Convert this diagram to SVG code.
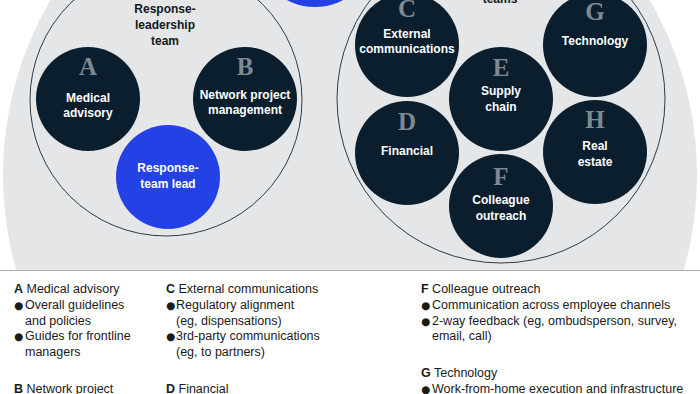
<svg xmlns="http://www.w3.org/2000/svg" width="700" height="394" viewBox="0 0 700 394">
<defs>
<style>
.bg{fill:#e5e6e8}
.ring{fill:none;stroke:#2b3b49;stroke-width:1}
.dark{fill:#0a1e2d}
.blue{fill:#2341e5}
.let{font-family:"Liberation Serif",serif;font-weight:bold;font-size:25px;fill:#7d8995;text-anchor:middle}
.lab{font-family:"Liberation Sans",Arial,sans-serif;font-weight:bold;font-size:12px;fill:#ffffff;text-anchor:middle}
.grp{font-family:"Liberation Sans",Arial,sans-serif;font-weight:bold;font-size:12px;fill:#111820;text-anchor:middle}
.leg{font-family:"Liberation Sans",Arial,sans-serif;font-size:12.5px;fill:#1a1a1a}
.b{font-weight:bold}
.bul{font-family:"DejaVu Sans",sans-serif;font-size:10.5px}
</style>
<clipPath id="top"><rect x="0" y="0" width="700" height="270"/></clipPath>
</defs>
<circle class="bg" cx="350" cy="175" r="347" clip-path="url(#top)"/>
<line x1="0" y1="270.5" x2="700" y2="270.5" stroke="#a7aeb5" stroke-width="1.2"/>

<g id="node-top-blue"><circle class="blue" cx="315" cy="-53" r="60"/></g>

<g id="node-response-leadership-team">
<circle class="ring" cx="166" cy="100" r="136"/>
<text class="grp" x="165" y="13">Response-</text>
<text class="grp" x="165" y="29">leadership</text>
<text class="grp" x="165" y="45">team</text>
</g>
<g id="node-A">
<circle class="dark" cx="88" cy="99" r="52"/>
<text class="let" x="88" y="75">A</text>
<text class="lab" x="88" y="102">Medical</text>
<text class="lab" x="88" y="117">advisory</text>
</g>
<g id="node-B">
<circle class="dark" cx="245" cy="99" r="52"/>
<text class="let" x="245" y="75">B</text>
<text class="lab" x="245" y="99">Network project</text>
<text class="lab" x="245" y="114">management</text>
</g>
<g id="node-lead">
<circle class="blue" cx="168" cy="177" r="52"/>
<text class="lab" x="168" y="172">Response-</text>
<text class="lab" x="168" y="188">team lead</text>
</g>

<g id="node-response-teams">
<circle class="ring" cx="501" cy="99" r="164"/>
<text class="grp" x="500" y="3">teams</text>
</g>
<g id="node-C">
<circle class="dark" cx="407" cy="45" r="52"/>
<text class="let" x="407" y="17">C</text>
<text class="lab" x="407" y="38">External</text>
<text class="lab" x="407" y="53">communications</text>
</g>
<g id="node-G">
<circle class="dark" cx="595" cy="45" r="52"/>
<text class="let" x="595" y="20">G</text>
<text class="lab" x="595" y="45">Technology</text>
</g>
<g id="node-E">
<circle class="dark" cx="501" cy="99" r="52"/>
<text class="let" x="501" y="76">E</text>
<text class="lab" x="501" y="95">Supply</text>
<text class="lab" x="501" y="111">chain</text>
</g>
<g id="node-D">
<circle class="dark" cx="407" cy="153" r="52"/>
<text class="let" x="407" y="130">D</text>
<text class="lab" x="407" y="155">Financial</text>
</g>
<g id="node-H">
<circle class="dark" cx="595" cy="152" r="52"/>
<text class="let" x="595" y="128">H</text>
<text class="lab" x="595" y="150">Real</text>
<text class="lab" x="595" y="166">estate</text>
</g>
<g id="node-F">
<circle class="dark" cx="501" cy="206" r="52"/>
<text class="let" x="501" y="185">F</text>
<text class="lab" x="501" y="204">Colleague</text>
<text class="lab" x="501" y="220">outreach</text>
</g>

<g id="legend">
<text class="leg" x="14" y="293"><tspan class="b">A</tspan> Medical advisory</text>
<text class="leg" x="14" y="309"><tspan class="bul">●</tspan><tspan x="25">Overall guidelines</tspan></text>
<text class="leg" x="25" y="324.5">and policies</text>
<text class="leg" x="14" y="340"><tspan class="bul">●</tspan><tspan x="25">Guides for frontline</tspan></text>
<text class="leg" x="25" y="355.5">managers</text>
<text class="leg" x="14" y="393"><tspan class="b">B</tspan> Network project</text>

<text class="leg" x="166" y="293"><tspan class="b">C</tspan> External communications</text>
<text class="leg" x="166" y="309"><tspan class="bul">●</tspan><tspan x="176">Regulatory alignment</tspan></text>
<text class="leg" x="176" y="324.5">(eg, dispensations)</text>
<text class="leg" x="166" y="340"><tspan class="bul">●</tspan><tspan x="176">3rd-party communications</tspan></text>
<text class="leg" x="176" y="355.5">(eg, to partners)</text>
<text class="leg" x="166" y="393"><tspan class="b">D</tspan> Financial</text>

<text class="leg" x="421" y="293"><tspan class="b">F</tspan> Colleague outreach</text>
<text class="leg" x="421" y="309"><tspan class="bul">●</tspan><tspan x="432">Communication across employee channels</tspan></text>
<text class="leg" x="421" y="324.5"><tspan class="bul">●</tspan><tspan x="432">2-way feedback (eg, ombudsperson, survey,</tspan></text>
<text class="leg" x="432" y="340">email, call)</text>
<text class="leg" x="421" y="377"><tspan class="b">G</tspan> Technology</text>
<text class="leg" x="421" y="393"><tspan class="bul">●</tspan><tspan x="432">Work-from-home execution and infrastructure</tspan></text>
</g>
</svg>
